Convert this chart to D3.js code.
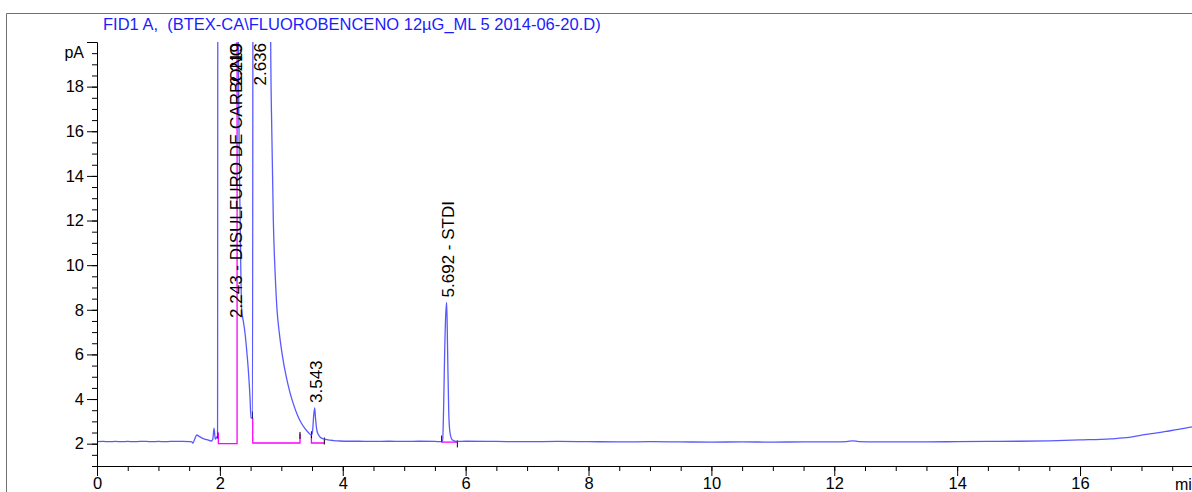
<!DOCTYPE html>
<html>
<head>
<meta charset="utf-8">
<script src="https://cdn.jsdelivr.net/npm/d3@7"></script>
<style>
  body { margin: 0; background: #fff; }
  text { font-family: Arial, "Liberation Sans", sans-serif; }
</style>
</head>
<body>
<script>
// Chromatogram trace (time in min, signal in pA). Off-scale parts use 30.
var traceTime = [0, 0.1, 0.2, 0.3, 0.4, 0.5, 0.6, 0.7, 0.8, 0.9, 1.0, 1.1, 1.2, 1.3, 1.4, 1.5,
  1.545, 1.56, 1.59, 1.625, 1.66, 1.72, 1.79, 1.86, 1.885, 1.905, 1.925, 1.945, 1.962, 1.968,
  2.29, 2.30, 2.33, 2.355, 2.381, 2.409, 2.436, 2.463, 2.49, 2.506, 2.531, 2.541,
  2.82, 2.827, 2.845, 2.87, 2.90, 2.93, 2.97, 3.02, 3.08, 3.14, 3.20, 3.26, 3.32,
  3.38, 3.44, 3.49, 3.51, 3.525, 3.543, 3.555, 3.575, 3.60, 3.63, 3.68, 3.74, 3.85, 3.95,
  4.1, 4.25, 4.5, 4.75, 5.0, 5.25, 5.5, 5.6, 5.625, 5.64, 5.66, 5.678, 5.692, 5.705, 5.725,
  5.745, 5.78, 5.86, 6.0, 6.5, 7.0, 7.5, 8.0, 8.5, 9.0, 9.5, 10.0, 10.5, 11.0, 11.5, 12.0,
  12.2, 12.3, 12.4, 12.7, 13.0, 13.5, 14.0, 14.5, 15.0, 15.5, 16.0, 16.5, 16.8, 17.0, 17.2,
  17.4, 17.6, 17.85];
var traceValue = [2.09, 2.1, 2.09, 2.1, 2.09, 2.1, 2.09, 2.1, 2.1, 2.09, 2.1, 2.09, 2.1, 2.1, 2.1, 2.09,
  2.08, 2.02, 2.2, 2.39, 2.33, 2.24, 2.18, 2.12, 2.2, 2.7, 2.2, 2.28, 2.35, 30,
  30, 20.5, 12, 8.0, 7.5, 6.96, 6.2, 5.3, 4.1, 3.15, 3.15, 30,
  30, 19.9, 16, 12, 9.6, 8.0, 6.9, 5.9, 5.0, 4.3, 3.75, 3.3, 2.95,
  2.7, 2.5, 2.38, 2.6, 3.2, 3.6, 3.2, 2.65, 2.42, 2.3, 2.22, 2.18, 2.14, 2.12,
  2.11, 2.11, 2.1, 2.11, 2.1, 2.11, 2.1, 2.09, 2.12, 3.4, 6.3, 7.9, 8.33, 6.4, 3.4,
  2.5, 2.18, 2.1, 2.11, 2.1, 2.09, 2.1, 2.09, 2.08, 2.09, 2.08, 2.07, 2.08, 2.07, 2.08, 2.08,
  2.09, 2.13, 2.09, 2.08, 2.08, 2.08, 2.09, 2.1, 2.11, 2.13, 2.17, 2.22, 2.28, 2.38, 2.46,
  2.55, 2.64, 2.77];

// Peak annotations
var peakText = ["2.243 - DISULFURO DE CARBONO", "2.219", "2.636", "3.543", "5.692 - STDI"];
var peakTime = [2.243, 2.243, 2.636, 3.543, 5.692];
var peakHeight = [30, 30, 30, 3.6, 8.33];

// Integration baselines (pink) : start, end, level, left edge top, right edge top
var baseStart = [1.975, 2.535, 3.49, 5.615];
var baseEnd = [2.28, 3.304, 3.70, 5.86];
var baseLevel = [2.0, 2.03, 2.03, 2.07];
var baseLeftTop = [2.5, 3.15, 2.35, 2.07];
var baseRightTop = [30, 2.45, 2.03, 2.07];

// Peak start/end tick marks
var markTime = [1.962, 2.531, 3.304, 3.49, 3.70, 5.61, 5.865];
var markValue = [2.39, 3.29, 2.37, 2.4, 2.12, 2.21, 1.99];

// Axis ticks
var xMajor = [0, 2, 4, 6, 8, 10, 12, 14, 16];
var yMajor = [2, 4, 6, 8, 10, 12, 14, 16, 18];

var W = 1192, H = 492;
var plotLeft = 97, plotTop = 42, plotBottom = 466;

var svg = d3.select("body")
    .append("svg")
    .attr("width", W)
    .attr("height", H);

var x = d3.scaleLinear().domain([0, 18]).range([plotLeft, plotLeft + 18 * 61.44]);
var y = d3.scaleLinear().domain([1, 20]).range([plotBottom, plotTop]);

// outer frame
svg.append("path")
    .attr("d", "M6.5," + H + "V13.5H" + W)
    .attr("fill", "none")
    .attr("stroke", "#707070")
    .attr("stroke-width", 1);

// title
svg.append("text")
    .attr("x", 103)
    .attr("y", 30)
    .attr("fill", "#1c1cff")
    .style("font-size", "16.5px")
    .style("white-space", "pre")
    .text("FID1 A,  (BTEX-CA\\FLUOROBENCENO 12\u00b5G_ML 5 2014-06-20.D)");

svg.append("clipPath").attr("id", "plot")
    .append("rect")
    .attr("x", plotLeft).attr("y", plotTop)
    .attr("width", W - plotLeft).attr("height", plotBottom - plotTop);

var plot = svg.append("g").attr("clip-path", "url(#plot)");

// pink baselines
baseStart.forEach(function (s, i) {
    var e = baseEnd[i];
    plot.append("path")
        .attr("d", "M" + x(s) + "," + y(baseLeftTop[i]) + "V" + y(baseLevel[i]) +
            "H" + x(e) + "V" + y(baseRightTop[i]))
        .attr("fill", "none")
        .attr("stroke", "#ff00ff")
        .attr("stroke-width", 1.3);
});

// tick marks
plot.selectAll(".mark")
    .data(markTime)
    .enter().append("line")
    .attr("x1", function (d) { return x(d); })
    .attr("x2", function (d) { return x(d); })
    .attr("y1", function (d, i) { return y(markValue[i]) - 3.5; })
    .attr("y2", function (d, i) { return y(markValue[i]) + 3.5; })
    .attr("stroke", "#000")
    .attr("stroke-width", 1);

// signal
var trace = traceTime.map(function (t, i) { return { t: t, v: traceValue[i] }; });
var line = d3.line()
    .curve(d3.curveMonotoneX)
    .x(function (d) { return x(d.t); })
    .y(function (d) { return y(d.v); });

plot.append("path")
    .datum(trace)
    .attr("d", line)
    .attr("fill", "none")
    .attr("stroke", "#3c3cff")
    .attr("stroke-width", 1.3)
    .attr("stroke-opacity", 0.85);

// Y axis
svg.append("g")
    .attr("transform", "translate(" + plotLeft + ",0)")
    .call(d3.axisLeft(y).tickValues(d3.range(1, 20.01, 0.5)).tickSize(5).tickSizeOuter(0).tickFormat(""));
svg.append("g")
    .attr("transform", "translate(" + plotLeft + ",0)")
    .call(d3.axisLeft(y).tickValues(yMajor.concat([20])).tickSize(10).tickSizeOuter(0).tickPadding(3)
        .tickFormat(function (d) { return d === 20 ? "" : d; }));

svg.append("text")
    .attr("x", 84)
    .attr("y", y(19.5))
    .attr("dy", "0.32em")
    .attr("text-anchor", "end")
    .style("font-size", "16px")
    .text("pA");

// X axis
svg.append("g")
    .attr("transform", "translate(0," + plotBottom + ")")
    .call(d3.axisBottom(x).tickValues(d3.range(0, 18.01, 0.5)).tickSize(5).tickSizeOuter(0).tickFormat(""));
svg.append("g")
    .attr("transform", "translate(0," + plotBottom + ")")
    .call(d3.axisBottom(x).tickValues(xMajor).tickSize(10).tickSizeOuter(0).tickPadding(1));

svg.append("text")
    .attr("x", 1175)
    .attr("y", 490)
    .style("font-size", "16px")
    .text("min");

svg.selectAll(".tick text")
    .style("font-family", "Arial, 'Liberation Sans', sans-serif")
    .style("font-size", "16.5px")
    .attr("fill", "#000");
svg.selectAll(".domain, .tick line").attr("stroke", "#000");

// peak labels (rotated)
peakText.forEach(function (txt, i) {
    var px = x(peakTime[i]) + 7;
    var off = peakHeight[i] > y.domain()[1];
    var py = off ? plotTop + 1 : y(peakHeight[i]) - 5;
    svg.append("text")
        .attr("transform", "translate(" + px + "," + py + ") rotate(-90)")
        .attr("text-anchor", off ? "end" : "start")
        .style("font-size", "17px")
        .attr("fill", "#000")
        .text(txt);
});
</script>
</body>
</html>
